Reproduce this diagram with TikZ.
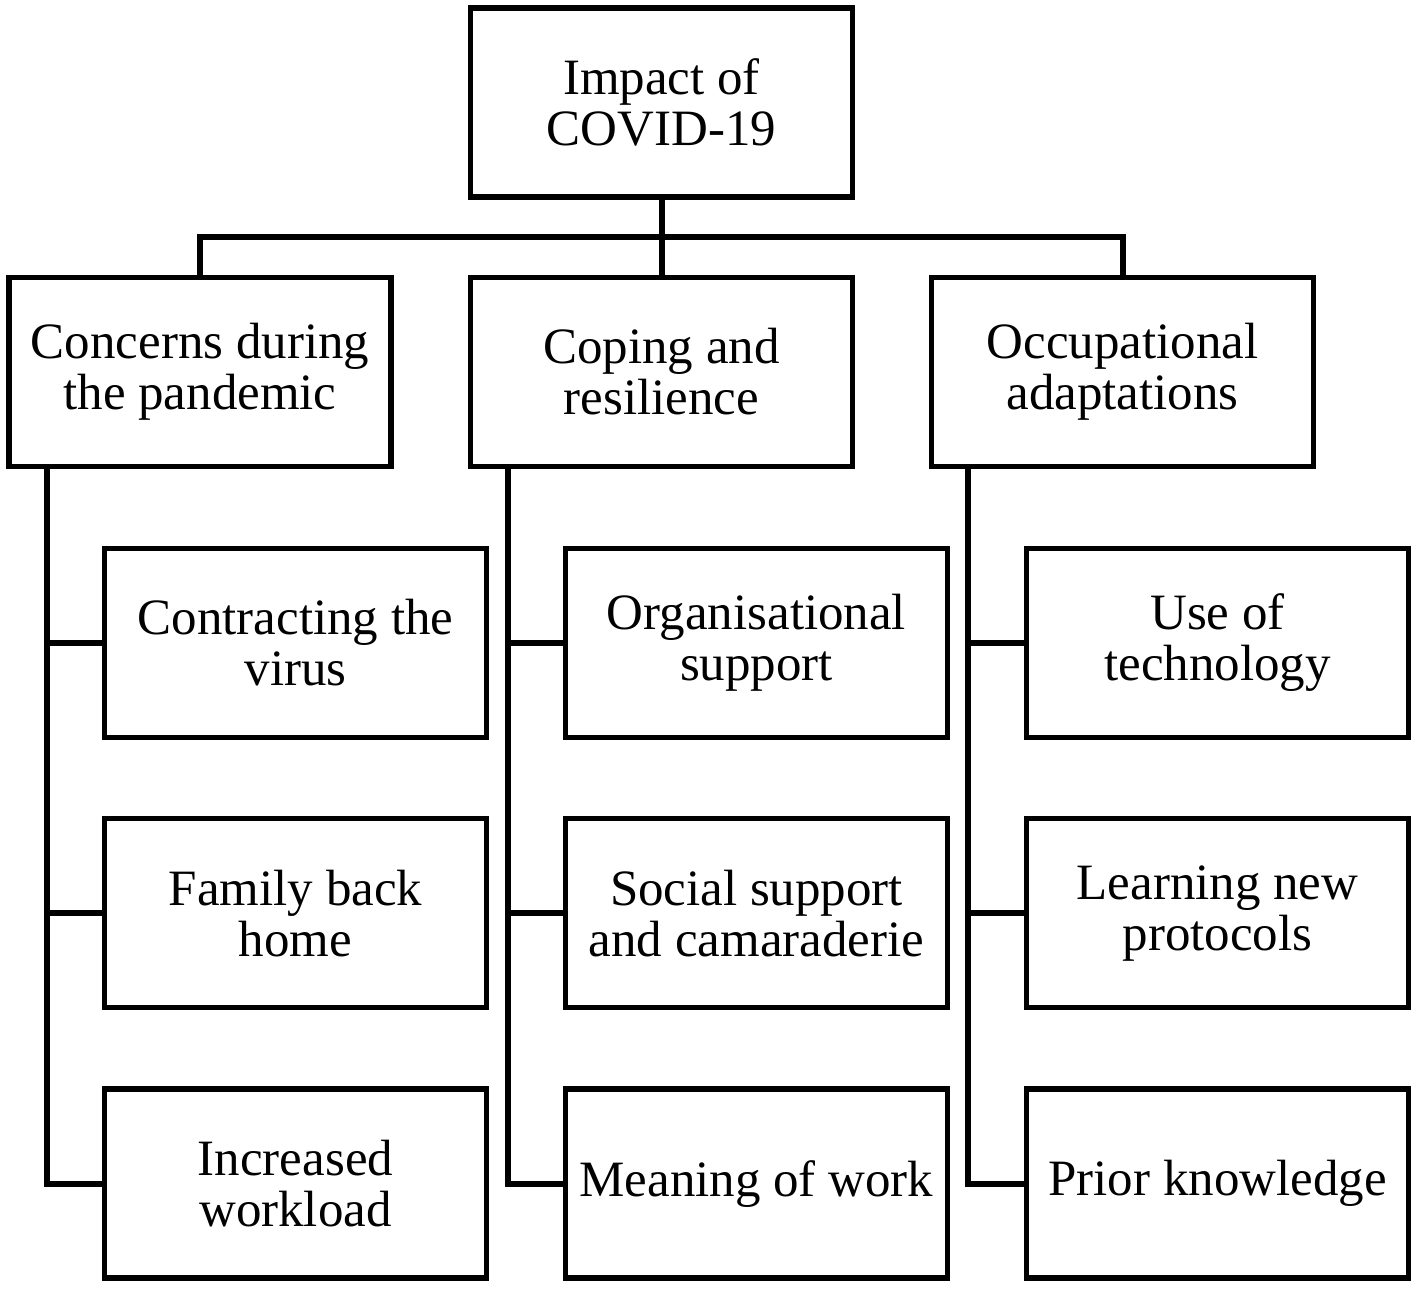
\documentclass[tikz,border=0pt]{standalone}
\usepackage{fontspec}
\setmainfont{Liberation Serif}
\usepackage{tikz}
\usetikzlibrary{positioning}

\tikzset{
  box/.style={draw,line width=1.5pt,minimum width=3.82cm,minimum height=1.89cm,
    align=center,inner sep=2pt,font=\fontsize{14.5}{14.5}\selectfont},
  link/.style={line width=1.7pt}
}

\begin{document}
\begin{tikzpicture}
    \useasboundingbox (0,0) rectangle (14.18,12.89);
    % Top theme
    \node[box] (root) at (6.615,11.865) {Impact of\\COVID-19};
    % Main themes
    \node[box] (concerns) at (2.00,9.17) {Concerns during\\the pandemic};
    \node[box] (coping) at (6.615,9.17) {Coping and\\resilience};
    \node[box] (occup) at (11.225,9.17) {Occupational\\adaptations};
    % Subthemes
    \node[box] (contract) at (2.955,6.46) {Contracting the\\virus};
    \node[box,below=0.76cm of contract] (family) {Family back\\home};
    \node[box,below=0.76cm of family] (workload) {Increased\\workload};
    \node[box] (orgsup) at (7.565,6.46) {Organisational\\support};
    \node[box,below=0.76cm of orgsup] (social) {Social support\\and camaraderie};
    \node[box,below=0.76cm of social] (meaning) {Meaning of work};
    \node[box] (tech) at (12.175,6.46) {Use of\\technology};
    \node[box,below=0.76cm of tech] (protocols) {Learning new\\protocols};
    \node[box,below=0.76cm of protocols] (prior) {Prior knowledge};

    \coordinate (bus) at (6.615,10.52);
    \coordinate (ctrunk) at (0.47,8.24);
    \coordinate (mtrunk) at (5.08,8.24);
    \coordinate (otrunk) at (9.68,8.24);

    \draw[link] (root.south) -- (coping.north);
    \draw[link] (concerns.north) |- (bus) -| (occup.north);
    % Trunks down each column
    \draw[link] (ctrunk) |- (workload.west);
    \draw[link] (contract.west) -- (contract.west -| ctrunk);
    \draw[link] (family.west) -- (family.west -| ctrunk);
    \draw[link] (mtrunk) |- (meaning.west);
    \draw[link] (orgsup.west) -- (orgsup.west -| mtrunk);
    \draw[link] (social.west) -- (social.west -| mtrunk);
    \draw[link] (otrunk) |- (prior.west);
    \draw[link] (tech.west) -- (tech.west -| otrunk);
    \draw[link] (protocols.west) -- (protocols.west -| otrunk);
\end{tikzpicture}
\end{document}
